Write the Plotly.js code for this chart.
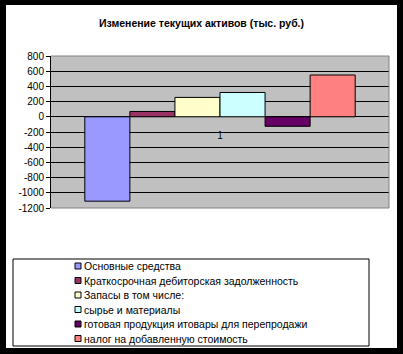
<!DOCTYPE html>
<html>
<head>
<meta charset="utf-8">
<script src="https://cdn.plot.ly/plotly-3.0.1.min.js"></script>
<style>
  html, body { margin: 0; padding: 0; background: #000; width: 403px; height: 354px; overflow: hidden; }
  #chart { position: absolute; left: 6px; top: 5px; width: 391px; height: 343px; background: #fff; }
</style>
</head>
<body>
<div id="chart"></div>
<script>
// ---- data ----
const categories = ['1'];
const seriesNames = [
  'Основные средства',
  'Краткосрочная дебиторская задолженность',
  'Запасы в том числе:',
  'сырье и материалы',
  'готовая продукция итовары для перепродажи',
  'налог на добавленную стоимость'
];
const seriesValues = [-1110, 70, 255, 320, -125, 550];
const yTickVals = [800, 600, 400, 200, 0, -200, -400, -600, -800, -1000, -1200];
const yTickText = yTickVals.map(v => String(v));
const chartTitle = 'Изменение текущих активов (тыс. руб.)';

// ---- styles ----
const seriesColors = ['#9999FF', '#993366', '#FFFFCC', '#CCFFFF', '#660066', '#FF8080'];
const FONT = 'Liberation Sans, Arial, sans-serif';
const W = 391, H = 343;
const M = { l: 45, r: 8, t: 51, b: 140, autoexpand: false };
const PW = W - M.l - M.r, PH = H - M.t - M.b;
const yRange = [-1200, 800];
const px2x = px => (px - M.l) / PW;
const py2y = py => (H - M.b - py) / PH;

const traces = seriesNames.map((name, i) => ({
  type: 'bar',
  name: name,
  x: categories,
  y: [seriesValues[i]],
  showlegend: true,
  marker: { color: seriesColors[i], line: { color: '#000', width: 1 } },
  legend: i === 0 ? 'legend' : 'legend' + (i + 1),
  hoverinfo: 'name+y'
}));

const layout = {
  width: W, height: H,
  margin: M,
  paper_bgcolor: '#fff',
  plot_bgcolor: '#C0C0C0',
  font: { family: FONT, size: 10, color: '#000' },
  title: {
    text: chartTitle,
    font: { family: FONT, size: 10.5, color: '#000', weight: 'bold' },
    xref: 'container', x: 0.5, xanchor: 'center',
    yref: 'container', y: 1 - 18 / H, yanchor: 'middle'
  },
  barmode: 'group',
  bargap: 0.2,
  bargroupgap: 0,
  xaxis: {
    type: 'category',
    anchor: 'free',
    position: (0 - yRange[0]) / (yRange[1] - yRange[0]),
    showgrid: false, showline: false, zeroline: false,
    ticks: '', ticklabelstandoff: 11,
    tickfont: { family: FONT, size: 10, color: '#000' }
  },
  yaxis: {
    range: yRange,
    tickvals: yTickVals, ticktext: yTickText,
    ticks: 'outside', ticklen: 4, tickcolor: '#000', tickwidth: 1,
    showline: true, linecolor: '#000', linewidth: 1,
    showgrid: true, gridcolor: '#000', gridwidth: 1,
    zeroline: true, zerolinecolor: '#000', zerolinewidth: 1,
    tickfont: { family: FONT, size: 10, color: '#000' }
  },
  shapes: [
    { type: 'path', xref: 'paper', yref: 'paper', layer: 'above',
      path: 'M 0 1 L 1 1 L 1 0 L 0 0', line: { color: '#808080', width: 1 } },
    { type: 'rect', xref: 'paper', yref: 'paper', layer: 'above',
      x0: px2x(7), x1: px2x(363), y0: py2y(341), y1: py2y(254),
      line: { color: '#000', width: 1 }, fillcolor: 'rgba(0,0,0,0)' }
  ],
  showlegend: true
};

seriesNames.forEach((n, i) => {
  const key = i === 0 ? 'legend' : 'legend' + (i + 1);
  layout[key] = {
    x: px2x(38), xanchor: 'left',
    y: py2y(261 + 14.5 * i), yanchor: 'middle',
    bgcolor: 'rgba(0,0,0,0)', borderwidth: 0,
    font: { family: FONT, size: 10.5, color: '#000' },
    itemclick: false, itemdoubleclick: false
  };
});

function shrinkSwatches() {
  // small Excel-style legend squares (Plotly's own swatch sits at translate(20,0))
  document.querySelectorAll('#chart g.legendpoints path').forEach(p => {
    p.setAttribute('transform', 'translate(34,0) scale(0.5)');
    p.setAttribute('vector-effect', 'non-scaling-stroke');
  });
}

Plotly.newPlot('chart', traces, layout, { displayModeBar: false, staticPlot: true }).then(() => {
  shrinkSwatches();
  requestAnimationFrame(shrinkSwatches);
  setTimeout(shrinkSwatches, 50);
  setTimeout(shrinkSwatches, 300);
});
new MutationObserver(() => {
  document.querySelectorAll('#chart g.legendpoints path').forEach(p => {
    if (p.getAttribute('transform') !== 'translate(34,0) scale(0.5)') {
      p.setAttribute('transform', 'translate(34,0) scale(0.5)');
      p.setAttribute('vector-effect', 'non-scaling-stroke');
    }
  });
}).observe(document.getElementById('chart'), { childList: true, subtree: true, attributes: true, attributeFilter: ['transform'] });
</script>
</body>
</html>
